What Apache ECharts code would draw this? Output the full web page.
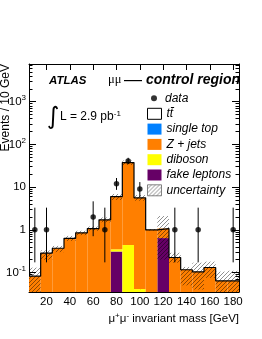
<!DOCTYPE html>
<html><head><meta charset="utf-8">
<script src="https://cdn.jsdelivr.net/npm/echarts@6/dist/echarts.min.js"></script>
<style>html,body{margin:0;padding:0;background:#fff}#c{width:262px;height:339px}</style>
</head><body><div id="c"></div>
<script>
// ---- data ----
const binLow  = [5,15,25,35,45,55,65,75,85,95,105,115,125,135,145,155,165,175];
const binHigh = [15,25,35,45,55,65,75,85,95,105,115,125,135,145,155,165,175,185];
const fakeLeptons = [0,0,0,0,0,0,0,0.31,0,0,0,0.64,0,0,0,0,0,0];
const diboson     = [0,0,0,0,0,0,0,0.04,0.44,0.041,0,0,0,0,0,0,0,0];
const zJets       = [0.082,0.285,0.37,0.63,0.85,1.07,1.71,5.65,37.06,5.56,1.0,0.43,0.225,0.116,0.104,0.131,0.064,0.064];
const singleTop   = [0,0,0,0,0,0,0,0,0,0,0,0,0,0,0,0,0,0];
const ttbar       = [0,0,0,0,0,0,0,0,0,0,0,0,0,0,0,0,0,0];
const uncLow  = [0.03,0.2,0.3,0.55,0.75,0.95,1.5,5.0,33,4.8,0.96,0.2,0.17,0.05,0.04,0.075,0.03,0.03];
const uncHigh = [0.13,0.33,0.42,0.72,0.95,1.2,1.95,6.9,42,6.5,1.04,2.1,0.29,0.135,0.17,0.18,0.105,0.11];
const dataX    = [10,20,60,70,80,90,100,130,150,180];
const dataY    = [1,1,2,1,12,41,9,1,1,1];
const dataLow  = [0.173,0.173,0.708,0.173,8.6,34.5,5.8,0.173,0.173,0.173];
const dataHigh = [3.3,3.3,4.64,3.3,16.3,48.5,13.1,3.3,3.3,3.3];
const xTicks = [20,40,60,80,100,120,140,160,180];
const yMajorTicks = [0.1,1,10,100,1000];
const yTickLabels = ['10{s|-1}','1','10','10{s|2}','10{s|3}'];
const yMinorTicks = [0.04,0.05,0.06,0.07,0.08,0.09,0.2,0.3,0.4,0.5,0.6,0.7,0.8,0.9,
  2,3,4,5,6,7,8,9,20,30,40,50,60,70,80,90,200,300,400,500,600,700,800,900,2000,3000,4000,5000,6000,7000];
const yMin = 0.035, yMax = 7600;

const FF = '"Liberation Sans", Arial, sans-serif';
const colors = {fake:'#660066', dib:'#ffff00', z:'#ff7f00', st:'#0080ff', tt:'#ffffff'};

function hatchCanvas(){
  const c = document.createElement('canvas'); c.width = 4; c.height = 4;
  const g = c.getContext('2d');
  g.strokeStyle = 'rgba(0,0,0,0.55)'; g.lineWidth = 0.8;
  g.beginPath();
  g.moveTo(0,4); g.lineTo(4,0);
  g.moveTo(-1,1); g.lineTo(1,-1);
  g.moveTo(3,5); g.lineTo(5,3);
  g.stroke();
  return c;
}
const hatch = {image: hatchCanvas(), repeat: 'repeat'};

const comps = [
  {name:'fake leptons', vals:fakeLeptons, color:colors.fake},
  {name:'diboson', vals:diboson, color:colors.dib},
  {name:'Z + jets', vals:zJets, color:colors.z},
  {name:'single top', vals:singleTop, color:colors.st},
  {name:'tt\u0304', vals:ttbar, color:colors.tt}
];
const cumSum = binLow.map(() => 0);
function rectItem(params, api, fill){
  if (api.value(3) <= api.value(2)) return null;
  const p0 = api.coord([api.value(0), api.value(3)]);
  const p1 = api.coord([api.value(1), api.value(2)]);
  return {type:'rect', shape:{x:p0[0], y:p0[1], width:p1[0]-p0[0], height:p1[1]-p0[1]}, style:{fill:fill, stroke:null, lineWidth:0}};
}
const series = [];
comps.forEach(c => {
  const data = binLow.map((x,i) => {
    const base = cumSum[i] > 0 ? cumSum[i] : yMin;
    cumSum[i] += c.vals[i];
    const top = cumSum[i] > 0 ? cumSum[i] : yMin;
    return [x, binHigh[i], base, top];
  });
  series.push({
    type:'custom', name:c.name, xAxisIndex:0, yAxisIndex:0, clip:true,
    itemStyle:{color:c.color},
    encode:{x:[0,1], y:[2,3]},
    renderItem:(p,api)=>rectItem(p,api,c.color),
    data:data
  });
});
series.push({
  type:'custom', name:'uncertainty', xAxisIndex:0, yAxisIndex:0, clip:true,
  itemStyle:{color:'#aaaaaa'},
  encode:{x:[0,1], y:[2,3]},
  renderItem:(p,api)=>rectItem(p,api,hatch),
  data: binLow.map((x,i)=>[x, binHigh[i], uncLow[i], uncHigh[i]])
});
const outline = binLow.map((x,i)=>[x, cumSum[i]]);
outline.push([binHigh[binHigh.length-1], cumSum[cumSum.length-1]]);
series.push({
  type:'line', name:'total', step:'end', xAxisIndex:0, yAxisIndex:0, symbol:'none',
  lineStyle:{color:'#000', width:1.2}, data:outline, silent:true
});
series.push({
  type:'custom', name:'dataErr', xAxisIndex:0, yAxisIndex:0, clip:true,
  encode:{x:0, y:[1,2]},
  renderItem:(p,api)=>{
    const a = api.coord([api.value(0), api.value(1)]);
    const b = api.coord([api.value(0), api.value(2)]);
    return {type:'line', shape:{x1:a[0], y1:a[1], x2:b[0], y2:b[1]}, style:{stroke:'#000', lineWidth:1}};
  },
  data: dataX.map((x,i)=>[x, dataLow[i], dataHigh[i]])
});
series.push({
  type:'scatter', name:'data', xAxisIndex:0, yAxisIndex:0, symbol:'circle', symbolSize:5.5,
  itemStyle:{color:'#000'}, data: dataX.map((x,i)=>[x, dataY[i]])
});

const gridRect = {left:29, top:64, width:210, height:228};
const axLine = {show:true, onZero:false, lineStyle:{color:'#000', width:1}};
function yAx(pos, grid, ticks, len, labels, line){
  return {type:'log', gridIndex:grid, position:pos, min:yMin, max:yMax,
    axisLine: line ? axLine : {show:false},
    axisTick:{show:true, inside:true, length:len, customValues:ticks, lineStyle:{color:'#000', width:1}},
    axisLabel: labels ? {show:true, customValues:yMajorTicks, color:'#000', fontFamily:FF, fontSize:11.5, margin:3,
      formatter:(v)=>{ let bi=0, bd=1e9; yMajorTicks.forEach((t,i)=>{const d=Math.abs(Math.log10(t)-Math.log10(v)); if(d<bd){bd=d;bi=i;}}); return yTickLabels[bi]; },
      rich:{s:{fontSize:8, fontFamily:FF, color:'#000', verticalAlign:'top', padding:[0,0,7,0]}}} : {show:false},
    splitLine:{show:false}, minorTick:{show:false}};
}
const option = {
  animation:false,
  grid:[Object.assign({}, gridRect), Object.assign({}, gridRect)],
  xAxis:[
    {type:'value', gridIndex:0, position:'bottom', min:5, max:185, axisLine:axLine,
     axisTick:{show:true, inside:true, length:6, customValues:xTicks, lineStyle:{color:'#000'}},
     axisLabel:{show:true, customValues:xTicks, color:'#000', fontFamily:FF, fontSize:11.5, margin:4},
     splitLine:{show:false}},
    {type:'value', gridIndex:1, position:'top', min:5, max:185, axisLine:axLine,
     axisTick:{show:true, inside:true, length:6, customValues:xTicks, lineStyle:{color:'#000'}},
     axisLabel:{show:false}, splitLine:{show:false}}
  ],
  yAxis:[
    yAx('left',0,yMajorTicks,7,true,true),
    yAx('right',0,yMajorTicks,7,false,true),
    yAx('left',1,yMinorTicks,3.5,false,false),
    yAx('right',1,yMinorTicks,3.5,false,false)
  ],
  legend:[
    {orient:'vertical', left:151, top:92.2, padding:0, itemWidth:6, itemHeight:6, selectedMode:false,
     data:[{name:'data', icon:'circle', itemStyle:{color:'#000'}}],
     textStyle:{fontFamily:FF, fontStyle:'italic', fontSize:12, color:'#000', lineHeight:11, padding:[0,0,0,3]}},
    {orient:'vertical', left:147, top:107.8, padding:0, itemWidth:14, itemHeight:11, itemGap:3.3, selectedMode:false,
     data:[
       {name:'tt\u0304', icon:'rect', itemStyle:{color:'#fff', borderColor:'#000', borderWidth:1}},
       {name:'single top', icon:'rect', itemStyle:{color:colors.st}},
       {name:'Z + jets', icon:'rect', itemStyle:{color:colors.z}},
       {name:'diboson', icon:'rect', itemStyle:{color:colors.dib}},
       {name:'fake leptons', icon:'rect', itemStyle:{color:colors.fake}},
       {name:'uncertainty', icon:'rect', itemStyle:{color:hatch, borderColor:'#666', borderWidth:0.8}}
     ],
     textStyle:{fontFamily:FF, fontStyle:'italic', fontSize:12, color:'#000', lineHeight:11}}
  ],
  graphic:[
    {type:'text', x:49, y:81, style:{text:'ATLAS', fontFamily:FF, fontStyle:'italic', fontWeight:'bold', fontSize:11.5, fill:'#000', verticalAlign:'middle'}},
    {type:'text', x:108, y:80, style:{text:'\u03bc\u03bc', fontFamily:'"Liberation Serif", serif', fontSize:12.5, fill:'#000', verticalAlign:'middle'}},
    {type:'text', x:124, y:80, style:{text:'\u2014', fontFamily:FF, fontSize:18, fill:'#000', verticalAlign:'middle'}},
    {type:'text', x:240, y:80, style:{text:'control region', fontFamily:FF, fontStyle:'italic', fontWeight:'bold', fontSize:14, fill:'#000', align:'right', verticalAlign:'middle'}},
    {type:'text', x:47, y:118, style:{text:'\u222b', fontFamily:'"DejaVu Sans", sans-serif', fontSize:24, fill:'#000', verticalAlign:'middle'}},
    {type:'text', x:60, y:117, style:{text:'L = 2.9 pb{s|-1}', fontFamily:FF, fontSize:12, fill:'#000', verticalAlign:'middle',
      rich:{s:{fontFamily:FF, fontSize:8, fill:'#000', verticalAlign:'top', padding:[0,0,7,0]}}}},
    {type:'text', x:6, y:64, rotation:Math.PI/2, style:{text:'Events / 10 GeV', fontFamily:FF, fontSize:12, fill:'#000', align:'right', verticalAlign:'middle'}},
    {type:'text', x:239, y:319, style:{text:'\u03bc{s|+}\u03bc{s|-} invariant mass [GeV]', fontFamily:FF, fontSize:11.5, fill:'#000', align:'right', verticalAlign:'middle',
      rich:{s:{fontFamily:FF, fontSize:8, fill:'#000', verticalAlign:'top', padding:[0,0,7,0]}}}}
  ],
  series: series
};
const chart = echarts.init(document.getElementById('c'), null, {renderer:'canvas'});
chart.setOption(option);
</script></body></html>
